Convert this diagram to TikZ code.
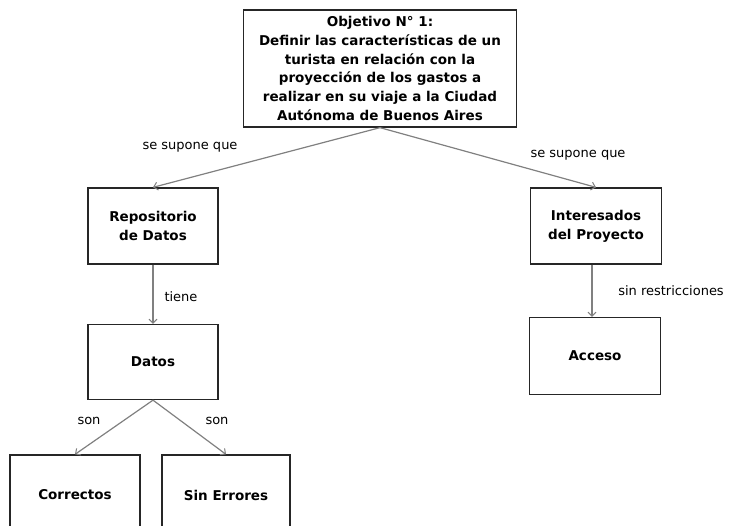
\documentclass[tikz,border=0pt]{standalone}
\usepackage{fontspec}
\setmainfont{DejaVu Sans}
\usetikzlibrary{arrows.meta}
\begin{document}
\begin{tikzpicture}[x=1pt,y=-1pt,
  box/.style={draw=black!85,line width=1.3pt,fill=white,font=\bfseries\fontsize{13.5}{18.8}\selectfont,align=center,inner sep=0pt},
  conn/.style={draw=black!50,line width=1.2pt,-{Straight Barb[length=4pt,width=8pt,line width=1pt]}},
  lbl/.style={font=\fontsize{13}{15}\selectfont,inner sep=0pt,anchor=center}]
\useasboundingbox (0,0) rectangle (731,525);
\node[box,minimum width=273pt,minimum height=117pt] (obj) at (380,68.5) {Objetivo N° 1:\\Definir las características de un\\turista en relación con la\\proyección de los gastos a\\realizar en su viaje a la Ciudad\\Autónoma de Buenos Aires};
\node[box,minimum width=130pt,minimum height=76pt] (rep) at (153,226) {Repositorio\\de Datos};
\node[box,minimum width=131pt,minimum height=76pt] (int) at (596,226) {Interesados\\del Proyecto};
\node[box,minimum width=130pt,minimum height=75pt] (dat) at (153,362) {Datos};
\node[box,minimum width=131pt,minimum height=77pt] (acc) at (595,356) {Acceso};
\node[box,minimum width=130pt,minimum height=80pt] (cor) at (75,495) {Correctos};
\node[box,minimum width=128pt,minimum height=80pt] (sin) at (226,495) {Sin Errores};
\draw[conn] (obj.south) -- (rep.north);
\draw[conn] (obj.south) -- (int.north);
\draw[conn] (rep.south) -- (dat.north);
\draw[conn] (int.south -| 592,0) -- (acc.north -| 592,0);
\draw[conn] (dat.south) -- (cor.north);
\draw[conn] (dat.south) -- (sin.north);
\node[lbl] (l1) at (190,147) {se supone que};
\node[lbl] (l2) at (578,155) {se supone que};
\node[lbl] (l3) at (181,297) {tiene};
\node[lbl] (l4) at (671,291) {sin restricciones};
\node[lbl] (l5) at (89,421) {son};
\node[lbl] (l6) at (217,421) {son};
\end{tikzpicture}
\end{document}
